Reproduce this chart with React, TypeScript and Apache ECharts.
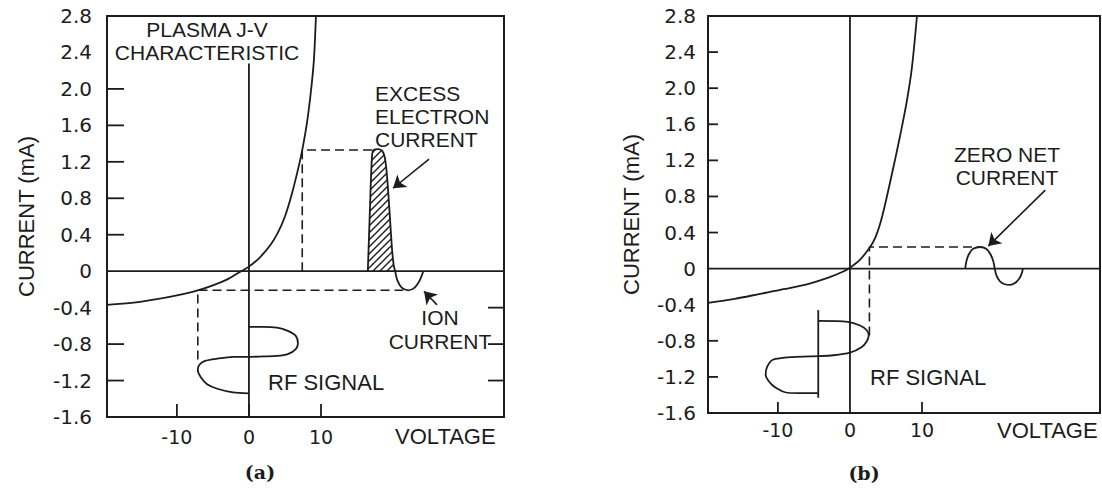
import React, { useEffect, useRef } from 'react';
import * as echarts from 'echarts';

// ---------- data: panel (a) ----------
const aJV: number[][] = [
  [-19.7, -0.37], [-16, -0.345], [-13, -0.31], [-10, -0.265], [-7.1, -0.21], [-5, -0.155],
  [-3, -0.09], [-1.5, -0.02], [0, 0.05], [1.5, 0.15], [3, 0.29], [4, 0.42], [5, 0.6],
  [6, 0.86], [7, 1.18], [7.4, 1.33], [8, 1.6], [8.5, 1.9], [9, 2.3], [9.3, 2.8],
];
const aExcess: number[][] = [
  [16.5, 0], [16.65, 0.35], [16.8, 0.7], [16.95, 1.05], [17.1, 1.28], [17.3, 1.33], [18.0, 1.34],
  [18.5, 1.32], [18.85, 1.25], [19.1, 1.1], [19.35, 0.85], [19.6, 0.55], [19.85, 0.25],
  [20.1, 0.06], [20.3, 0],
];
const aIon: number[][] = [
  [20.3, 0], [20.6, -0.1], [21.2, -0.18], [22.1, -0.21], [23.0, -0.18], [23.7, -0.1], [24.2, 0],
];
const aRF: number[][] = [
  [0, -0.61], [2.0, -0.61], [3.9, -0.62], [5.4, -0.655], [6.5, -0.71], [6.8, -0.79],
  [6.5, -0.855], [5.4, -0.91], [3.9, -0.93], [2.0, -0.935], [0, -0.94], [-2.2, -0.94],
  [-4.4, -0.96], [-6.1, -0.985], [-6.9, -1.03], [-7.1, -1.085], [-6.7, -1.16], [-5.8, -1.24],
  [-4.4, -1.29], [-2.2, -1.33], [0, -1.34],
];
const aDashHigh: number[][] = [[7.4, 0], [7.4, 1.33], [17.2, 1.33]];
const aDashLow: number[][] = [[-7.1, -0.97], [-7.1, -0.21], [21.4, -0.21]];
const aZero: number[][] = [[-19.7, 0], [35.4, 0]];
const aVert: number[][] = [[0, 2.28], [0, -1.6]];
const aArrowExcess: number[][] = [[25, 1.23], [20, 0.91]];
const aArrowIon: number[][] = [[26.1, -0.37], [24.3, -0.22]];
const aYTicksLeft = [2.0, 1.6, 1.2, 0.8, 0.4, -0.8, -1.2];
const aYTicksRight = [-0.4, -0.8, -1.2];
const aXTicks = [-10, 0, 10];

// ---------- data: panel (b) ----------
const bJV: number[][] = [
  [-19.7, -0.38], [-16, -0.335], [-12.5, -0.28], [-9, -0.225], [-5.6, -0.165], [-3, -0.1],
  [-1, -0.035], [0, 0.01], [1.4, 0.1], [2.8, 0.24], [3.5, 0.34], [4.2, 0.5], [4.9, 0.72],
  [5.8, 1.04], [6.9, 1.45], [7.9, 1.86], [8.6, 2.23], [9.3, 2.8],
];
const bWave: number[][] = [
  [16.0, 0], [16.15, 0.08], [16.5, 0.16], [17.1, 0.22], [18.1, 0.24], [18.9, 0.22], [19.5, 0.16],
  [19.9, 0.08], [20.1, 0], [20.3, -0.07], [20.8, -0.14], [21.4, -0.17], [22.2, -0.18],
  [22.9, -0.16], [23.5, -0.11], [23.85, -0.05], [24.0, 0],
];
const bRF: number[][] = [
  [-4.4, -0.58], [-0.3, -0.59], [1.4, -0.63], [2.3, -0.68], [2.6, -0.74], [2.3, -0.81],
  [1.6, -0.87], [0, -0.93], [-2.3, -0.96], [-4.4, -0.97], [-7.9, -0.98], [-10.7, -1.01],
  [-11.5, -1.09], [-11.7, -1.18], [-10.8, -1.29], [-9.0, -1.37], [-6.9, -1.38], [-4.4, -1.38],
];
const bRFAxis: number[][] = [[-4.4, -0.46], [-4.4, -1.43]];
const bDash: number[][] = [[2.7, -0.74], [2.7, 0.24], [18.0, 0.24]];
const bZero: number[][] = [[-19.7, 0], [34.7, 0]];
const bVert: number[][] = [[0, 2.8], [0, -1.6]];
const bArrow: number[][] = [[27.1, 0.87], [19.2, 0.25]];
const bYTicksLeft = [2.4, 2.0, 1.6, 1.2, 0.8, 0.4, -0.8, -1.2];
const bXTicks = [-10, 10];

// ---------- axes ----------
const xLabelValues = [-10, 0, 10];
const aXRange = [-19.7, 35.4];
const bXRange = [-19.7, 34.7];
const yRange = [-1.6, 2.8];
const yStep = 0.4;

const INK = '#1c1c1c';
const FONT = '"Liberation Sans", Arial, Helvetica, sans-serif';
const NUMFONT = '"DejaVu Sans", "Liberation Sans", sans-serif';

export default function App() {
  const ref = useRef<HTMLDivElement>(null);

  useEffect(() => {
    const chart = echarts.init(ref.current!, null, { renderer: 'svg' });

    // hatch pattern
    const cv = document.createElement('canvas');
    cv.width = 7;
    cv.height = 7;
    const ctx = cv.getContext('2d')!;
    ctx.fillStyle = '#ffffff';
    ctx.fillRect(0, 0, 7, 7);
    ctx.strokeStyle = INK;
    ctx.lineWidth = 1.4;
    ctx.beginPath();
    ctx.moveTo(-1, 8); ctx.lineTo(8, -1);
    ctx.moveTo(-1, 1); ctx.lineTo(1, -1);
    ctx.moveTo(6, 8); ctx.lineTo(8, 6);
    ctx.stroke();

    const line = (idx: number, data: number[][], extra: any = {}) => ({
      type: 'line', xAxisIndex: idx, yAxisIndex: idx, data, symbol: 'none', silent: true,
      lineStyle: { color: INK, width: 1.8, ...(extra.lineStyle || {}) },
      smooth: extra.smooth ?? false,
      ...(extra.rest || {}),
    });
    const dashed = (idx: number, data: number[][]) =>
      line(idx, data, { lineStyle: { type: [9, 5], width: 1.6 } });

    const ticks = (idx: number, values: number[], side: string, len: number, xr: number[]) => ({
      type: 'custom', xAxisIndex: idx, yAxisIndex: idx, silent: true,
      data: values.map((v) => [v]),
      renderItem: (_p: any, api: any) => {
        const v = api.value(0);
        let x1, y1, x2, y2;
        if (side === 'left') {
          const p = api.coord([xr[0], v]); x1 = p[0]; y1 = p[1]; x2 = p[0] + len; y2 = p[1];
        } else if (side === 'right') {
          const p = api.coord([xr[1], v]); x1 = p[0]; y1 = p[1]; x2 = p[0] - len; y2 = p[1];
        } else {
          const p = api.coord([v, yRange[0]]); x1 = p[0]; y1 = p[1]; x2 = p[0]; y2 = p[1] - len;
        }
        return { type: 'line', shape: { x1, y1, x2, y2 }, style: { stroke: INK, lineWidth: 1.8 } };
      },
    });

    const arrows = (idx: number, list: number[][][]) => ({
      type: 'line', xAxisIndex: idx, yAxisIndex: idx, data: [], silent: true,
      markLine: {
        silent: true, symbol: ['none', 'arrow'], symbolSize: 12, animation: false,
        label: { show: false },
        lineStyle: { color: INK, width: 1.6, type: 'solid' },
        emphasis: { disabled: true },
        data: list.map((seg) => [{ coord: seg[0] }, { coord: seg[1] }]),
      },
    });

    const xAxis = (idx: number, xr: number[], margin: number) => ({
      type: 'value', gridIndex: idx, min: xr[0], max: xr[1],
      axisLine: { show: false, onZero: false }, axisTick: { show: false }, splitLine: { show: false },
      axisLabel: {
        margin, fontSize: 19, color: INK, fontFamily: NUMFONT, showMinLabel: false, showMaxLabel: false,
        formatter: (v: number) => {
          const r = Math.round(v);
          return Math.abs(v - r) < 1e-6 && xLabelValues.includes(r) ? String(r) : '';
        },
      },
    });
    const yAxis = (idx: number, margin: number, gap: number) => ({
      type: 'value', gridIndex: idx, min: yRange[0], max: yRange[1], interval: yStep,
      axisLine: { show: false, onZero: false }, axisTick: { show: false }, splitLine: { show: false },
      axisLabel: {
        margin, fontSize: 20, color: INK, fontFamily: NUMFONT,
        formatter: (v: number) => (Math.abs(v) < 1e-9 ? '0' : v.toFixed(1)),
      },
      name: 'CURRENT (mA)', nameLocation: 'middle', nameGap: gap,
      nameTextStyle: { fontSize: 22, color: INK, fontFamily: FONT },
    });

    const txt = (text: string, x: number, y: number, align: string, vAlign: string, extra: any = {}) => ({
      type: 'text', x, y, silent: true,
      style: {
        text, fill: INK, font: extra.font || `21px ${FONT}`, textAlign: align,
        textVerticalAlign: vAlign, lineHeight: extra.lineHeight || 23,
      },
    });

    const option: any = {
      animation: false,
      backgroundColor: '#ffffff',
      grid: [
        { left: 107, top: 16, width: 397, height: 401, show: true, borderColor: INK, borderWidth: 2 },
        { left: 708, top: 16, width: 392, height: 397, show: true, borderColor: INK, borderWidth: 2 },
      ],
      xAxis: [xAxis(0, aXRange, 10), xAxis(1, bXRange, 7)],
      yAxis: [yAxis(0, 15, 70), yAxis(1, 12, 66)],
      series: [
        // panel a
        line(0, aZero),
        line(0, aVert),
        dashed(0, aDashHigh),
        dashed(0, aDashLow),
        line(0, aJV, { smooth: 0.3 }),
        line(0, aExcess, {
          smooth: 0.2,
          rest: { areaStyle: { color: { image: cv, repeat: 'repeat' }, opacity: 1, origin: 0 } },
        }),
        line(0, aIon, { smooth: 0.3 }),
        line(0, aRF, { smooth: 0.25 }),
        ticks(0, aYTicksLeft, 'left', 17, aXRange),
        ticks(0, aYTicksRight, 'right', 16, aXRange),
        ticks(0, aXTicks, 'bottom', 13, aXRange),
        arrows(0, [aArrowExcess, aArrowIon]),
        // panel b
        line(1, bZero),
        line(1, bVert),
        line(1, bRFAxis),
        dashed(1, bDash),
        line(1, bJV, { smooth: 0.3 }),
        line(1, bWave, { smooth: 0.3 }),
        line(1, bRF, { smooth: 0.25 }),
        ticks(1, bYTicksLeft, 'left', 10, bXRange),
        ticks(1, bXTicks, 'bottom', 11, bXRange),
        arrows(1, [bArrow]),
      ],
      graphic: [
        txt('PLASMA J-V\nCHARACTERISTIC', 207, 18, 'center', 'top'),
        txt('EXCESS\nELECTRON\nCURRENT', 375, 82, 'left', 'top'),
        txt('ION\nCURRENT', 440, 305, 'center', 'top', { lineHeight: 24 }),
        txt('RF SIGNAL', 268, 382, 'left', 'middle', { font: `22px ${FONT}` }),
        txt('VOLTAGE', 395, 436, 'left', 'middle', { font: `22px ${FONT}` }),
        txt('(a)', 260, 472, 'center', 'middle', { font: `bold 19px "DejaVu Serif", serif` }),
        txt('ZERO NET\nCURRENT', 1007, 143, 'center', 'top'),
        txt('RF SIGNAL', 870, 377, 'left', 'middle', { font: `22px ${FONT}` }),
        txt('VOLTAGE', 997, 430, 'left', 'middle', { font: `22px ${FONT}` }),
        txt('(b)', 864, 473, 'center', 'middle', { font: `bold 19px "DejaVu Serif", serif` }),
      ],
    };

    chart.setOption(option);
    return () => chart.dispose();
  }, []);

  return (
    <div
      ref={ref}
      style={{ position: 'fixed', left: 0, top: 0, width: 1102, height: 489, background: '#fff' }}
    />
  );
}
